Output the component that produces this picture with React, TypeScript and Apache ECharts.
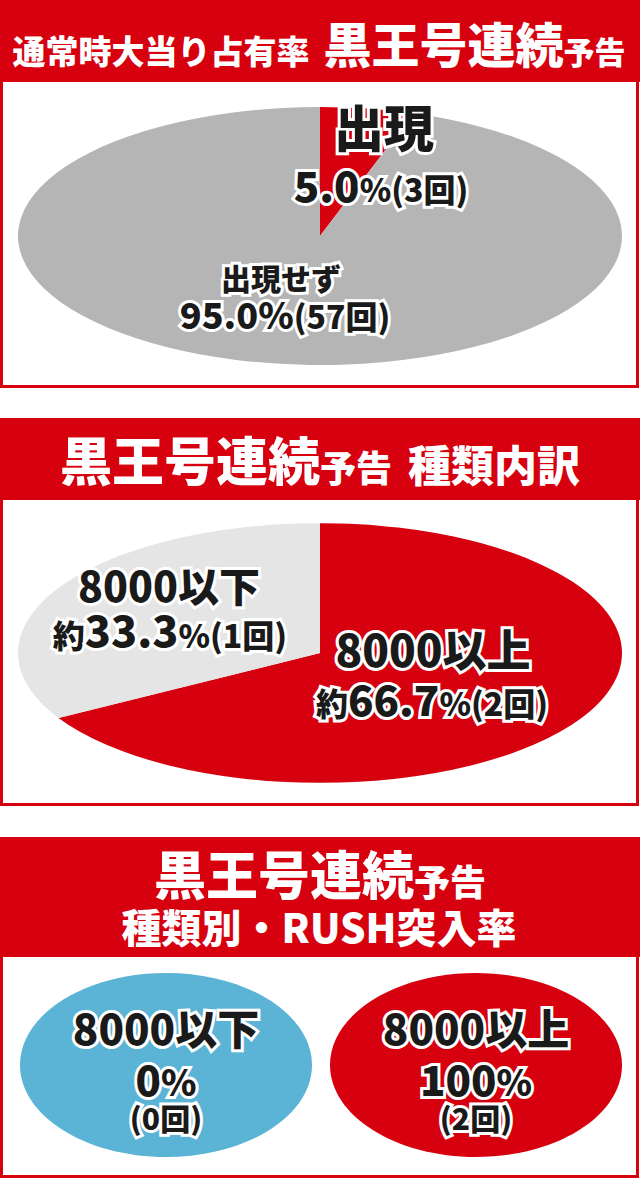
import React, { useEffect, useRef } from 'react';
import * as echarts from 'echarts';

// ---- data ----
const appearCategories = ['出現', '出現せず'];
const appearCounts = [3, 57];
const appearRates = [5.0, 95.0];

const typeCategories = ['8000以上', '8000以下'];
const typeCounts = [2, 1];
const typeRates = [66.7, 33.3];

const rushCategories = ['8000以下', '8000以上'];
const rushRates = [0, 100];
const rushCounts = [0, 2];

const titles = {
  t1a: '通常時大当り占有率',
  main: '黒王号連続',
  sub: '予告',
  t2b: '種類内訳',
  t3b: '種類別・RUSH突入率',
};

// ---- styles ----
const RED = '#d7000f';
const GRAY = '#b5b5b6';
const LIGHT = '#e5e5e5';
const BLUE = '#5bb3d6';
const INK = '#1a1a1a';
const FONT = "'Noto Sans CJK JP', 'Noto Sans', sans-serif";

function tok(size: number, color = INK, stroke = true) {
  const s: any = {
    fontSize: size,
    fontWeight: 900,
    fontFamily: FONT,
    fill: color,
    lineHeight: size,
    verticalAlign: 'bottom',
  };
  if (stroke) {
    s.stroke = '#ffffff';
    s.lineWidth = 6;
  }
  return s;
}

function label(x: number, y: number, text: string, rich: any) {
  return {
    type: 'text',
    z: 100,
    x,
    y,
    style: {
      text,
      x: 0,
      y: 0,
      align: 'center',
      verticalAlign: 'middle',
      textAlign: 'center',
      textVerticalAlign: 'middle',
      fontFamily: FONT,
      fontWeight: 900,
      rich,
    },
  };
}

function ellipsePie(values: number[], colors: string[], cx: number, cy: number, rx: number, ry: number) {
  const total = values.reduce((a, b) => a + b, 0);
  return {
    type: 'custom',
    coordinateSystem: 'none',
    silent: true,
    data: values.map((v) => [v]),
    renderItem: (params: any, api: any) => {
      const i = params.dataIndex;
      const v = api.value(0);
      let cum = 0;
      for (let k = 0; k < i; k++) cum += values[k];
      const a0 = -Math.PI / 2 + (cum / total) * Math.PI * 2;
      const a1 = a0 + (v / total) * Math.PI * 2;
      return {
        type: 'sector',
        x: cx,
        y: cy,
        scaleY: ry / rx,
        shape: { cx: 0, cy: 0, r0: 0, r: rx, startAngle: a0, endAngle: a1, clockwise: true },
        style: { fill: colors[i] },
      };
    },
  };
}

function ellipses(values: number[], colors: string[], centers: number[], cy: number, rx: number, ry: number) {
  return {
    type: 'custom',
    coordinateSystem: 'none',
    silent: true,
    data: values.map((v) => [v]),
    renderItem: (params: any) => {
      const i = params.dataIndex;
      return {
        type: 'ellipse',
        shape: { cx: centers[i], cy, rx, ry },
        style: { fill: colors[i] },
      };
    },
  };
}

function panelFrame(top: number, headerH: number, bottom: number) {
  return [
    {
      type: 'rect',
      z: 0,
      shape: { x: 1.5, y: top + 1.5, width: 636, height: bottom - top - 3 },
      style: { fill: '#ffffff', stroke: RED, lineWidth: 3 },
    },
    {
      type: 'rect',
      z: 1,
      shape: { x: 0, y: top, width: 640, height: headerH },
      style: { fill: RED },
    },
  ];
}

export default function App() {
  const ref = useRef<HTMLDivElement>(null);
  useEffect(() => {
    document.body.style.margin = '0';
    const chart = echarts.init(ref.current!, null, { renderer: 'svg' });

    const pct = (v: number, d = 1) => v.toFixed(d);
    const W = '#ffffff';

    const graphic: any[] = [
      ...panelFrame(0, 82, 388),
      ...panelFrame(418, 82, 806),
      ...panelFrame(837, 120, 1178),
      // headers
      label(319, 42, `{a|${titles.t1a}}{g| }{b|${titles.main}}{c|${titles.sub}}`, {
        a: tok(33, W, false),
        g: { ...tok(33, W, false), width: 14 },
        b: tok(48, W, false),
        c: tok(31, W, false),
      }),
      label(320, 458, `{b|${titles.main}}{c|${titles.sub}}{g| }{d|${titles.t2b}}`, {
        b: tok(52, W, false),
        c: tok(36, W, false),
        g: { ...tok(36, W, false), width: 16 },
        d: tok(43, W, false),
      }),
      label(320, 872, `{b|${titles.main}}{c|${titles.sub}}`, {
        b: tok(52, W, false),
        c: tok(36, W, false),
      }),
      label(319, 926, `{d|${titles.t3b}}`, { d: tok(40, W, false) }),
      // panel 1 labels
      label(384, 125, `{a|${appearCategories[0]}}`, { a: tok(50) }),
      label(381, 183, `{n|${pct(appearRates[0])}}{p|%}{q|(${appearCounts[0]}回)}`, {
        n: tok(42),
        p: tok(32),
        q: tok(32),
      }),
      label(281, 277, `{a|${appearCategories[1]}}`, { a: tok(30) }),
      label(285, 313, `{n|${pct(appearRates[1])}%}{q|(${appearCounts[1]}回)}`, {
        n: tok(36),
        q: tok(32),
      }),
      // panel 2 labels
      label(169, 584, `{a|${typeCategories[1]}}`, { a: tok(41) }),
      label(170, 628, `{y|約}{n|${pct(typeRates[1])}}{q|%(${typeCounts[1]}回)}`, {
        y: tok(32),
        n: tok(43),
        q: tok(32),
      }),
      label(433, 648, `{a|${typeCategories[0]}}`, { a: tok(44) }),
      label(432, 697, `{y|約}{n|${pct(typeRates[0])}}{q|%(${typeCounts[0]}回)}`, {
        y: tok(32),
        n: tok(42),
        q: tok(32),
      }),
      // panel 3 labels
      label(166, 1026, `{a|${rushCategories[0]}}`, { a: tok(42) }),
      label(166, 1077, `{n|${rushRates[0]}}{p|%}`, { n: tok(42), p: tok(36) }),
      label(166, 1117, `{q|(${rushCounts[0]}回)}`, { q: tok(30) }),
      label(476, 1026, `{a|${rushCategories[1]}}`, { a: tok(42) }),
      label(476, 1077, `{n|${rushRates[1]}}{p|%}`, { n: tok(42), p: tok(36) }),
      label(476, 1117, `{q|(${rushCounts[1]}回)}`, { q: tok(30) }),
    ];

    chart.setOption({
      animation: false,
      backgroundColor: '#ffffff',
      graphic: { elements: graphic },
      series: [
        ellipsePie(appearCounts, [RED, GRAY], 320, 236, 302, 129),
        ellipsePie(typeCounts, [RED, LIGHT], 320, 653, 302, 130),
        ellipses(rushRates, [BLUE, RED], [166, 476], 1065, 146, 92),
      ],
    });
    return () => chart.dispose();
  }, []);
  return <div ref={ref} style={{ width: 640, height: 1180 }} />;
}
